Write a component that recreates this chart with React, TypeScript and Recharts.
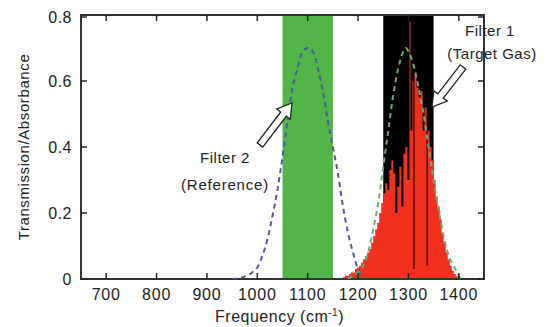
import React from 'react';
import { ComposedChart, Line, Area, XAxis, YAxis, ReferenceArea } from 'recharts';

// frequency ticks (cm-1) and transmission ticks
const xTicks = [700, 800, 900, 1000, 1100, 1200, 1300, 1400];
const yTicks = [0, 0.2, 0.4, 0.6, 0.8];

// filter 2 (reference) transmission, blue dashed
const blueFreq = [950, 970, 990, 1000, 1010, 1020, 1030, 1040, 1050, 1060, 1070, 1080, 1090, 1100, 1110, 1120, 1130, 1140, 1150, 1160, 1170, 1180, 1190, 1200, 1210];
const blueVal = [0, 0.005, 0.02, 0.035, 0.07, 0.12, 0.19, 0.27, 0.37, 0.48, 0.58, 0.64, 0.69, 0.7, 0.69, 0.64, 0.57, 0.48, 0.4, 0.32, 0.22, 0.14, 0.08, 0.03, 0.005];

// filter 1 (target gas) transmission, green dashed
const greenFreq = [1180, 1190, 1200, 1210, 1220, 1230, 1240, 1250, 1260, 1270, 1280, 1290, 1295, 1300, 1310, 1320, 1330, 1340, 1350, 1360, 1370, 1380, 1390, 1400, 1405];
const greenVal = [0, 0.01, 0.02, 0.04, 0.08, 0.15, 0.23, 0.34, 0.45, 0.56, 0.64, 0.69, 0.7, 0.69, 0.65, 0.58, 0.5, 0.4, 0.3, 0.21, 0.13, 0.07, 0.04, 0.01, 0];

// target gas absorbance spectrum, red
const redFreq = [1170, 1174, 1178, 1182, 1186, 1190, 1194, 1198, 1202, 1206, 1210, 1214, 1218, 1222, 1226, 1230, 1234, 1238, 1242, 1246, 1250, 1254, 1258, 1262, 1266, 1270, 1274, 1278, 1282, 1286, 1290, 1294, 1298, 1302, 1304, 1308, 1310, 1312, 1316, 1320, 1324, 1328, 1332, 1336, 1338, 1342, 1346, 1350, 1354, 1358, 1362, 1366, 1370, 1374, 1378, 1382, 1386, 1390, 1394, 1398, 1402];
const redVal = [0.005, 0.01, 0.01, 0.015, 0.02, 0.02, 0.03, 0.035, 0.04, 0.05, 0.06, 0.07, 0.08, 0.09, 0.11, 0.13, 0.15, 0.17, 0.2, 0.23, 0.26, 0.29, 0.27, 0.33, 0.36, 0.32, 0.2, 0.28, 0.34, 0.22, 0.38, 0.4, 0.3, 0.78, 0.45, 0.6, 0.03, 0.62, 0.58, 0.55, 0.57, 0.45, 0.52, 0.04, 0.45, 0.4, 0.36, 0.3, 0.25, 0.22, 0.18, 0.14, 0.11, 0.08, 0.06, 0.04, 0.025, 0.015, 0.008, 0.003, 0];

const blueData = blueFreq.map((f, i) => ({ f, v: blueVal[i] }));
const greenData = greenFreq.map((f, i) => ({ f, v: greenVal[i] }));
const redData = redFreq.map((f, i) => ({ f, v: redVal[i] }));

const W = 543;
const H = 319;
const PLOT_LEFT = 73;
const PLOT_TOP = 7;
const PLOT_W = 403;
const PLOT_H = 264;
const FONT = '"Liberation Sans", Arial, sans-serif';
const INK = '#222';

const XTick = ({ x, y, payload }: any) => (
  <g>
    <line x1={x} y1={y} x2={x} y2={y - 6} stroke={INK} strokeWidth={1.5} />
    <line x1={x} y1={PLOT_TOP} x2={x} y2={PLOT_TOP + 6} stroke={INK} strokeWidth={1.5} />
    <text x={x} y={y + 21} textAnchor="middle" fontSize={16} fill={INK} fontFamily={FONT} letterSpacing={0.8}>
      {payload.value}
    </text>
  </g>
);

const YTick = ({ x, y, payload }: any) => (
  <g>
    <line x1={x} y1={y} x2={x + 6} y2={y} stroke={INK} strokeWidth={1.5} />
    <line x1={PLOT_LEFT + PLOT_W} y1={y} x2={PLOT_LEFT + PLOT_W - 6} y2={y} stroke={INK} strokeWidth={1.5} />
    <text x={x - 9} y={y + 6} textAnchor="end" fontSize={16} fill={INK} fontFamily={FONT} letterSpacing={0.5}>
      {payload.value === 0 ? '0' : payload.value.toFixed(1)}
    </text>
  </g>
);

// hollow block arrow from tail to tip
const arrowPoints = (x1: number, y1: number, x2: number, y2: number) => {
  const shaft = 7, head = 17, headLen = 14;
  const dx = x2 - x1, dy = y2 - y1;
  const len = Math.sqrt(dx * dx + dy * dy);
  const ux = dx / len, uy = dy / len;
  const nx = -uy, ny = ux;
  const bx = x2 - ux * headLen, by = y2 - uy * headLen;
  const pts = [
    [x1 + nx * shaft / 2, y1 + ny * shaft / 2],
    [bx + nx * shaft / 2, by + ny * shaft / 2],
    [bx + nx * head / 2, by + ny * head / 2],
    [x2, y2],
    [bx - nx * head / 2, by - ny * head / 2],
    [bx - nx * shaft / 2, by - ny * shaft / 2],
    [x1 - nx * shaft / 2, y1 - ny * shaft / 2],
  ];
  return pts.map((p) => p.join(',')).join(' ');
};

export default function App() {
  return (
    <div style={{ position: 'relative', width: W, height: H }}>
      <ComposedChart width={W} height={H} margin={{ top: PLOT_TOP, right: W - PLOT_LEFT - PLOT_W, bottom: 0, left: 0 }}>
        <XAxis
          dataKey="f"
          type="number"
          domain={[650, 1450]}
          ticks={xTicks}
          allowDataOverflow
          height={H - PLOT_TOP - PLOT_H}
          tickSize={0}
          tickMargin={0}
          tickLine={false}
          axisLine={false}
          tick={<XTick />}
        />
        <YAxis
          type="number"
          domain={[0, 0.8]}
          ticks={yTicks}
          allowDataOverflow
          width={PLOT_LEFT}
          tickSize={0}
          tickMargin={0}
          tickLine={false}
          axisLine={false}
          tick={<YTick />}
        />
        <ReferenceArea x1={1050} x2={1150} y1={0} y2={0.8} fill="#52b548" fillOpacity={1} stroke="none" />
        <ReferenceArea x1={1250} x2={1350} y1={0} y2={0.8} fill="#000" fillOpacity={1} stroke="none" />
        <Area
          data={redData}
          dataKey="v"
          type="stepAfter"
          fill="#f2301e"
          fillOpacity={1}
          stroke="none"
          isAnimationActive={false}
        />
        <Line
          data={blueData}
          dataKey="v"
          type="monotone"
          stroke="#4b5aa6"
          strokeWidth={2}
          strokeDasharray="5 4"
          dot={false}
          isAnimationActive={false}
        />
        <Line
          data={greenData}
          dataKey="v"
          type="monotone"
          stroke="#69ad73"
          strokeWidth={2}
          strokeDasharray="5 4"
          dot={false}
          isAnimationActive={false}
        />
        <ReferenceArea x1={650} x2={1450} y1={0} y2={0.8} fill="none" stroke="#333" strokeWidth={2} />
      </ComposedChart>
      <svg width={W} height={H} style={{ position: 'absolute', left: 0, top: 0, pointerEvents: 'none' }} fontFamily={FONT}>
        <text
          transform={`translate(21, ${PLOT_TOP + PLOT_H / 2}) rotate(-90)`}
          textAnchor="middle"
          fontSize={15}
          fill={INK}
          letterSpacing={0.6}
        >
          Transmission/Absorbance
        </text>
        <text x={PLOT_LEFT + PLOT_W / 2 - 3} y={314} textAnchor="middle" fontSize={16} fill={INK} letterSpacing={0.5}>
          Frequency (cm<tspan dy={-6} fontSize={10}>-1</tspan><tspan dy={6}>)</tspan>
        </text>
        <polygon points={arrowPoints(252, 137, 284, 95)} fill="#fff" stroke={INK} strokeWidth={1.3} />
        <polygon points={arrowPoints(455, 59, 424, 99)} fill="#fff" stroke={INK} strokeWidth={1.3} />
        <text x={217} y={155} textAnchor="middle" fontSize={15} fill={INK} letterSpacing={0.5}>Filter 2</text>
        <text x={217} y={182} textAnchor="middle" fontSize={15} fill={INK} letterSpacing={0.8}>(Reference)</text>
        <text x={482} y={28} textAnchor="middle" fontSize={15} fill={INK} letterSpacing={0.5}>Filter 1</text>
        <text x={484} y={51} textAnchor="middle" fontSize={15} fill={INK} letterSpacing={0.5}>(Target Gas)</text>
      </svg>
    </div>
  );
}
